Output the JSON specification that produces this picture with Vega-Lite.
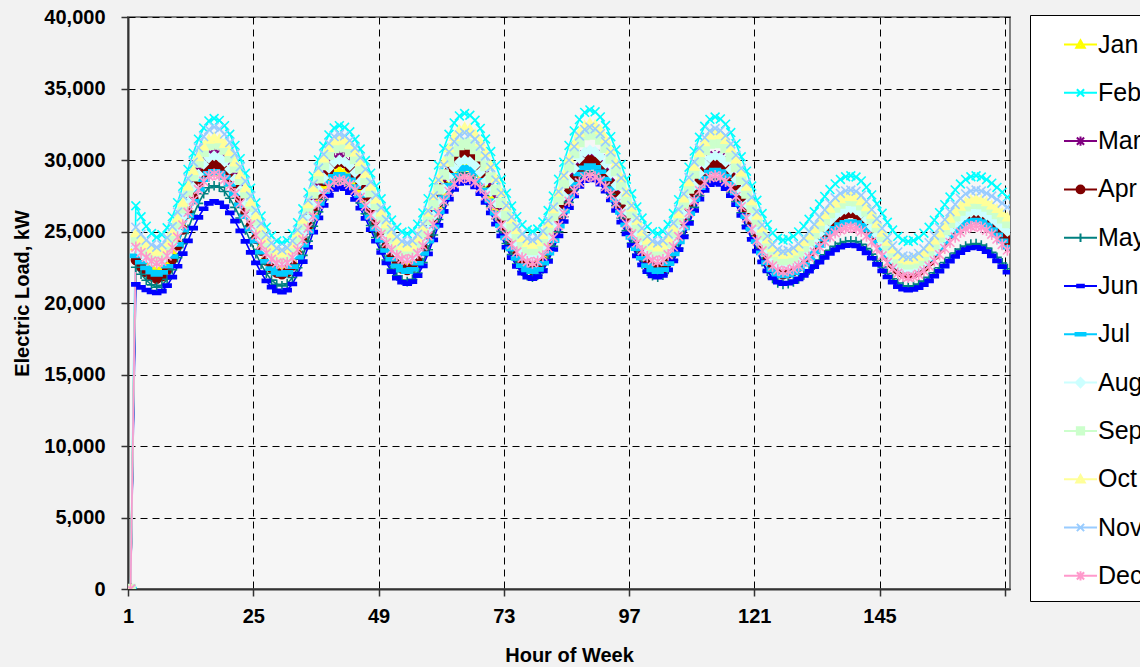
{
"$schema":"https://vega.github.io/schema/vega-lite/v6.json",
"autosize":{"type":"none"},
"padding":{"left":128,"top":17,"right":130,"bottom":78},
"width":882,"height":572,
"background":"#f2f2f2",
"datasets":{
"months":[{"key":"Jan","idx":1,"mk":"Jan"},{"key":"Feb","idx":2,"mk":"Feb"},{"key":"Mar","idx":3,"mk":"Mar"},{"key":"Apr","idx":4,"mk":"Apr"},{"key":"May","idx":5,"mk":"May"},{"key":"Jun","idx":6,"mk":"Jun"},{"key":"Jul","idx":7,"mk":"Jul"},{"key":"Aug","idx":8,"mk":"Aug"},{"key":"Sep","idx":9,"mk":"Sep"},{"key":"Oct","idx":10,"mk":"Oct"},{"key":"Nov","idx":11,"mk":"Nov"},{"key":"Dec","idx":12,"mk":"Dec"}],
"load":[
{"h":1,"Jan":0,"Feb":0,"Mar":0,"Apr":0,"May":0,"Jun":0,"Jul":0,"Aug":0,"Sep":0,"Oct":0,"Nov":0,"Dec":0},
{"h":2,"Jan":24000,"Feb":26800,"Mar":24200,"Apr":23000,"May":22500,"Jun":21300,"Jul":23300,"Aug":23900,"Sep":24500,"Oct":24900,"Nov":25300,"Dec":23900},
{"h":3,"Jan":23440,"Feb":26030,"Mar":23780,"Apr":22550,"May":22010,"Jun":21090,"Jul":22850,"Aug":23520,"Sep":24050,"Oct":24450,"Nov":24810,"Dec":23520},
{"h":4,"Jan":22960,"Feb":25370,"Mar":23420,"Apr":22160,"May":21590,"Jun":20910,"Jul":22460,"Aug":23190,"Sep":23660,"Oct":24060,"Nov":24390,"Dec":23190},
{"h":5,"Jan":22590,"Feb":24860,"Mar":23140,"Apr":21860,"May":21270,"Jun":20770,"Jul":22160,"Aug":22930,"Sep":23360,"Oct":23760,"Nov":24070,"Dec":22930},
{"h":6,"Jan":22400,"Feb":24600,"Mar":23000,"Apr":21700,"May":21100,"Jun":20700,"Jul":22000,"Aug":22800,"Sep":23200,"Oct":23600,"Nov":23900,"Dec":22800},
{"h":7,"Jan":22540,"Feb":24770,"Mar":23150,"Apr":21860,"May":21240,"Jun":20830,"Jul":22140,"Aug":22950,"Sep":23360,"Oct":23760,"Nov":24070,"Dec":22920},
{"h":8,"Jan":22950,"Feb":25260,"Mar":23600,"Apr":22330,"May":21660,"Jun":21210,"Jul":22570,"Aug":23390,"Sep":23830,"Oct":24230,"Nov":24560,"Dec":23290},
{"h":9,"Jan":23590,"Feb":26040,"Mar":24320,"Apr":23080,"May":22330,"Jun":21810,"Jul":23250,"Aug":24100,"Sep":24580,"Oct":24980,"Nov":25350,"Dec":23870},
{"h":10,"Jan":24420,"Feb":27020,"Mar":25220,"Apr":24040,"May":23170,"Jun":22570,"Jul":24100,"Aug":24990,"Sep":25540,"Oct":25940,"Nov":26350,"Dec":24610},
{"h":11,"Jan":25360,"Feb":28160,"Mar":26260,"Apr":25130,"May":24150,"Jun":23450,"Jul":25090,"Aug":26020,"Sep":26630,"Oct":27030,"Nov":27500,"Dec":25460},
{"h":12,"Jan":26340,"Feb":29340,"Mar":27340,"Apr":26270,"May":25150,"Jun":24350,"Jul":26110,"Aug":27080,"Sep":27770,"Oct":28170,"Nov":28700,"Dec":26340},
{"h":13,"Jan":27290,"Feb":30480,"Mar":28380,"Apr":27360,"May":26130,"Jun":25230,"Jul":27100,"Aug":28110,"Sep":28860,"Oct":29260,"Nov":29850,"Dec":27190},
{"h":14,"Jan":28110,"Feb":31460,"Mar":29290,"Apr":28320,"May":26970,"Jun":25990,"Jul":27950,"Aug":29000,"Sep":29820,"Oct":30220,"Nov":30850,"Dec":27930},
{"h":15,"Jan":28760,"Feb":32240,"Mar":30000,"Apr":29070,"May":27640,"Jun":26590,"Jul":28630,"Aug":29710,"Sep":30570,"Oct":30970,"Nov":31640,"Dec":28510},
{"h":16,"Jan":29160,"Feb":32730,"Mar":30450,"Apr":29540,"May":28060,"Jun":26970,"Jul":29060,"Aug":30150,"Sep":31040,"Oct":31440,"Nov":32130,"Dec":28880},
{"h":17,"Jan":29300,"Feb":32900,"Mar":30600,"Apr":29700,"May":28200,"Jun":27100,"Jul":29200,"Aug":30300,"Sep":31200,"Oct":31600,"Nov":32300,"Dec":29000},
{"h":18,"Jan":29200,"Feb":32770,"Mar":30480,"Apr":29580,"May":28100,"Jun":27010,"Jul":29090,"Aug":30190,"Sep":31080,"Oct":31480,"Nov":32170,"Dec":28910},
{"h":19,"Jan":28910,"Feb":32400,"Mar":30160,"Apr":29260,"May":27800,"Jun":26740,"Jul":28790,"Aug":29870,"Sep":30740,"Oct":31140,"Nov":31810,"Dec":28640},
{"h":20,"Jan":28440,"Feb":31800,"Mar":29630,"Apr":28730,"May":27320,"Jun":26300,"Jul":28290,"Aug":29360,"Sep":30190,"Oct":30580,"Nov":31220,"Dec":28210},
{"h":21,"Jan":27830,"Feb":31020,"Mar":28940,"Apr":28040,"May":26690,"Jun":25730,"Jul":27650,"Aug":28680,"Sep":29470,"Oct":29850,"Nov":30440,"Dec":27640},
{"h":22,"Jan":27100,"Feb":30090,"Mar":28110,"Apr":27210,"May":25940,"Jun":25050,"Jul":26870,"Aug":27880,"Sep":28620,"Oct":28980,"Nov":29520,"Dec":26970},
{"h":23,"Jan":26310,"Feb":29070,"Mar":27210,"Apr":26310,"May":25120,"Jun":24310,"Jul":26030,"Aug":27000,"Sep":27680,"Oct":28040,"Nov":28520,"Dec":26230},
{"h":24,"Jan":25490,"Feb":28030,"Mar":26290,"Apr":25390,"May":24280,"Jun":23540,"Jul":25170,"Aug":26100,"Sep":26720,"Oct":27060,"Nov":27480,"Dec":25470},
{"h":25,"Jan":24700,"Feb":27010,"Mar":25390,"Apr":24490,"May":23460,"Jun":22800,"Jul":24330,"Aug":25220,"Sep":25780,"Oct":26120,"Nov":26480,"Dec":24740},
{"h":26,"Jan":23970,"Feb":26080,"Mar":24560,"Apr":23660,"May":22710,"Jun":22120,"Jul":23560,"Aug":24420,"Sep":24930,"Oct":25250,"Nov":25560,"Dec":24060},
{"h":27,"Jan":23360,"Feb":25300,"Mar":23870,"Apr":22970,"May":22080,"Jun":21550,"Jul":22910,"Aug":23750,"Sep":24210,"Oct":24520,"Nov":24780,"Dec":23490},
{"h":28,"Jan":22890,"Feb":24700,"Mar":23340,"Apr":22440,"May":21600,"Jun":21110,"Jul":22410,"Aug":23230,"Sep":23660,"Oct":23960,"Nov":24190,"Dec":23060},
{"h":29,"Jan":22600,"Feb":24330,"Mar":23020,"Apr":22120,"May":21310,"Jun":20850,"Jul":22110,"Aug":22910,"Sep":23320,"Oct":23620,"Nov":23830,"Dec":22790},
{"h":30,"Jan":22500,"Feb":24200,"Mar":22900,"Apr":22000,"May":21200,"Jun":20750,"Jul":22000,"Aug":22800,"Sep":23200,"Oct":23500,"Nov":23700,"Dec":22700},
{"h":31,"Jan":22640,"Feb":24360,"Mar":23050,"Apr":22160,"May":21350,"Jun":20900,"Jul":22140,"Aug":22940,"Sep":23360,"Oct":23660,"Nov":23860,"Dec":22820},
{"h":32,"Jan":23040,"Feb":24850,"Mar":23490,"Apr":22620,"May":21780,"Jun":21330,"Jul":22550,"Aug":23370,"Sep":23820,"Oct":24130,"Nov":24340,"Dec":23170},
{"h":33,"Jan":23680,"Feb":25620,"Mar":24180,"Apr":23370,"May":22460,"Jun":22020,"Jul":23210,"Aug":24050,"Sep":24550,"Oct":24880,"Nov":25100,"Dec":23720},
{"h":34,"Jan":24490,"Feb":26590,"Mar":25060,"Apr":24310,"May":23330,"Jun":22900,"Jul":24040,"Aug":24900,"Sep":25480,"Oct":25840,"Nov":26070,"Dec":24420},
{"h":35,"Jan":25420,"Feb":27720,"Mar":26080,"Apr":25390,"May":24330,"Jun":23900,"Jul":25000,"Aug":25890,"Sep":26550,"Oct":26930,"Nov":27180,"Dec":25230},
{"h":36,"Jan":26380,"Feb":28880,"Mar":27130,"Apr":26510,"May":25370,"Jun":24950,"Jul":26000,"Aug":26910,"Sep":27650,"Oct":28070,"Nov":28330,"Dec":26070},
{"h":37,"Jan":27310,"Feb":30010,"Mar":28140,"Apr":27590,"May":26370,"Jun":25950,"Jul":26960,"Aug":27900,"Sep":28720,"Oct":29160,"Nov":29440,"Dec":26880},
{"h":38,"Jan":28120,"Feb":30980,"Mar":29020,"Apr":28530,"May":27240,"Jun":26830,"Jul":27790,"Aug":28750,"Sep":29650,"Oct":30120,"Nov":30400,"Dec":27580},
{"h":39,"Jan":28760,"Feb":31750,"Mar":29720,"Apr":29280,"May":27920,"Jun":27520,"Jul":28450,"Aug":29430,"Sep":30380,"Oct":30870,"Nov":31160,"Dec":28130},
{"h":40,"Jan":29160,"Feb":32240,"Mar":30150,"Apr":29740,"May":28350,"Jun":27950,"Jul":28860,"Aug":29860,"Sep":30840,"Oct":31340,"Nov":31640,"Dec":28480},
{"h":41,"Jan":29300,"Feb":32400,"Mar":30300,"Apr":29900,"May":28500,"Jun":28100,"Jul":29000,"Aug":30000,"Sep":31000,"Oct":31500,"Nov":31800,"Dec":28600},
{"h":42,"Jan":29200,"Feb":32290,"Mar":30190,"Apr":29790,"May":28400,"Jun":28000,"Jul":28900,"Aug":29900,"Sep":30890,"Oct":31390,"Nov":31690,"Dec":28520},
{"h":43,"Jan":28920,"Feb":31970,"Mar":29880,"Apr":29470,"May":28100,"Jun":27720,"Jul":28610,"Aug":29610,"Sep":30580,"Oct":31070,"Nov":31370,"Dec":28280},
{"h":44,"Jan":28470,"Feb":31450,"Mar":29380,"Apr":28940,"May":27620,"Jun":27250,"Jul":28140,"Aug":29130,"Sep":30070,"Oct":30540,"Nov":30840,"Dec":27890},
{"h":45,"Jan":27870,"Feb":30770,"Mar":28720,"Apr":28260,"May":26990,"Jun":26640,"Jul":27530,"Aug":28510,"Sep":29400,"Oct":29860,"Nov":30160,"Dec":27390},
{"h":46,"Jan":27170,"Feb":29960,"Mar":27940,"Apr":27450,"May":26240,"Jun":25920,"Jul":26800,"Aug":27770,"Sep":28610,"Oct":29050,"Nov":29350,"Dec":26790},
{"h":47,"Jan":26400,"Feb":29080,"Mar":27090,"Apr":26560,"May":25420,"Jun":25130,"Jul":26010,"Aug":26960,"Sep":27740,"Oct":28160,"Nov":28460,"Dec":26140},
{"h":48,"Jan":25600,"Feb":28170,"Mar":26210,"Apr":25640,"May":24580,"Jun":24320,"Jul":25190,"Aug":26140,"Sep":26860,"Oct":27240,"Nov":27540,"Dec":25460},
{"h":49,"Jan":24830,"Feb":27290,"Mar":25360,"Apr":24760,"May":23760,"Jun":23530,"Jul":24400,"Aug":25330,"Sep":25990,"Oct":26360,"Nov":26660,"Dec":24810},
{"h":50,"Jan":24130,"Feb":26480,"Mar":24580,"Apr":23940,"May":23010,"Jun":22810,"Jul":23670,"Aug":24590,"Sep":25200,"Oct":25540,"Nov":25840,"Dec":24210},
{"h":51,"Jan":23530,"Feb":25800,"Mar":23920,"Apr":23260,"May":22380,"Jun":22200,"Jul":23060,"Aug":23970,"Sep":24530,"Oct":24860,"Nov":25160,"Dec":23710},
{"h":52,"Jan":23080,"Feb":25280,"Mar":23420,"Apr":22730,"May":21900,"Jun":21740,"Jul":22590,"Aug":23490,"Sep":24020,"Oct":24330,"Nov":24630,"Dec":23320},
{"h":53,"Jan":22800,"Feb":24960,"Mar":23110,"Apr":22410,"May":21610,"Jun":21450,"Jul":22300,"Aug":23200,"Sep":23710,"Oct":24010,"Nov":24310,"Dec":23080},
{"h":54,"Jan":22700,"Feb":24850,"Mar":23000,"Apr":22300,"May":21500,"Jun":21350,"Jul":22200,"Aug":23100,"Sep":23600,"Oct":23900,"Nov":24200,"Dec":23000},
{"h":55,"Jan":22840,"Feb":25020,"Mar":23150,"Apr":22470,"May":21650,"Jun":21490,"Jul":22350,"Aug":23240,"Sep":23750,"Oct":24070,"Nov":24350,"Dec":23120},
{"h":56,"Jan":23250,"Feb":25510,"Mar":23610,"Apr":22960,"May":22100,"Jun":21920,"Jul":22780,"Aug":23650,"Sep":24200,"Oct":24560,"Nov":24810,"Dec":23460},
{"h":57,"Jan":23890,"Feb":26300,"Mar":24330,"Apr":23740,"May":22820,"Jun":22590,"Jul":23460,"Aug":24290,"Sep":24920,"Oct":25350,"Nov":25530,"Dec":24000},
{"h":58,"Jan":24720,"Feb":27300,"Mar":25250,"Apr":24720,"May":23720,"Jun":23440,"Jul":24330,"Aug":25120,"Sep":25820,"Oct":26350,"Nov":26450,"Dec":24690},
{"h":59,"Jan":25660,"Feb":28450,"Mar":26300,"Apr":25860,"May":24760,"Jun":24420,"Jul":25330,"Aug":26060,"Sep":26860,"Oct":27500,"Nov":27500,"Dec":25490},
{"h":60,"Jan":26640,"Feb":29650,"Mar":27400,"Apr":27040,"May":25840,"Jun":25430,"Jul":26370,"Aug":27040,"Sep":27940,"Oct":28700,"Nov":28600,"Dec":26310},
{"h":61,"Jan":27590,"Feb":30800,"Mar":28450,"Apr":28180,"May":26880,"Jun":26410,"Jul":27370,"Aug":27990,"Sep":28980,"Oct":29850,"Nov":29650,"Dec":27110},
{"h":62,"Jan":28410,"Feb":31800,"Mar":29370,"Apr":29160,"May":27790,"Jun":27260,"Jul":28240,"Aug":28810,"Sep":29890,"Oct":30850,"Nov":30570,"Dec":27800},
{"h":63,"Jan":29060,"Feb":32590,"Mar":30090,"Apr":29940,"May":28500,"Jun":27940,"Jul":28920,"Aug":29460,"Sep":30600,"Oct":31640,"Nov":31290,"Dec":28340},
{"h":64,"Jan":29460,"Feb":33080,"Mar":30550,"Apr":30430,"May":28950,"Jun":28360,"Jul":29350,"Aug":29860,"Sep":31050,"Oct":32130,"Nov":31750,"Dec":28680},
{"h":65,"Jan":29600,"Feb":33250,"Mar":30700,"Apr":30600,"May":29100,"Jun":28500,"Jul":29500,"Aug":30000,"Sep":31200,"Oct":32300,"Nov":31900,"Dec":28800},
{"h":66,"Jan":29500,"Feb":33130,"Mar":30580,"Apr":30480,"May":28990,"Jun":28400,"Jul":29390,"Aug":29900,"Sep":31090,"Oct":32180,"Nov":31790,"Dec":28710},
{"h":67,"Jan":29210,"Feb":32780,"Mar":30260,"Apr":30130,"May":28680,"Jun":28110,"Jul":29080,"Aug":29610,"Sep":30770,"Oct":31830,"Nov":31470,"Dec":28460},
{"h":68,"Jan":28740,"Feb":32210,"Mar":29730,"Apr":29550,"May":28180,"Jun":27640,"Jul":28580,"Aug":29140,"Sep":30260,"Oct":31270,"Nov":30960,"Dec":28040},
{"h":69,"Jan":28130,"Feb":31470,"Mar":29040,"Apr":28810,"May":27520,"Jun":27030,"Jul":27920,"Aug":28530,"Sep":29580,"Oct":30530,"Nov":30280,"Dec":27500},
{"h":70,"Jan":27400,"Feb":30590,"Mar":28210,"Apr":27920,"May":26740,"Jun":26300,"Jul":27140,"Aug":27800,"Sep":28780,"Oct":29650,"Nov":29480,"Dec":26860},
{"h":71,"Jan":26610,"Feb":29620,"Mar":27310,"Apr":26950,"May":25890,"Jun":25510,"Jul":26290,"Aug":27010,"Sep":27900,"Oct":28690,"Nov":28600,"Dec":26160},
{"h":72,"Jan":25790,"Feb":28630,"Mar":26390,"Apr":25950,"May":25010,"Jun":24690,"Jul":25410,"Aug":26190,"Sep":27000,"Oct":27710,"Nov":27700,"Dec":25440},
{"h":73,"Jan":25000,"Feb":27670,"Mar":25490,"Apr":24980,"May":24160,"Jun":23900,"Jul":24560,"Aug":25400,"Sep":26120,"Oct":26750,"Nov":26820,"Dec":24740},
{"h":74,"Jan":24270,"Feb":26780,"Mar":24660,"Apr":24090,"May":23380,"Jun":23170,"Jul":23780,"Aug":24670,"Sep":25320,"Oct":25870,"Nov":26020,"Dec":24100},
{"h":75,"Jan":23660,"Feb":26040,"Mar":23970,"Apr":23350,"May":22720,"Jun":22560,"Jul":23120,"Aug":24060,"Sep":24650,"Oct":25130,"Nov":25350,"Dec":23560},
{"h":76,"Jan":23190,"Feb":25470,"Mar":23440,"Apr":22770,"May":22220,"Jun":22090,"Jul":22620,"Aug":23590,"Sep":24130,"Oct":24570,"Nov":24830,"Dec":23140},
{"h":77,"Jan":22900,"Feb":25120,"Mar":23120,"Apr":22420,"May":21910,"Jun":21800,"Jul":22310,"Aug":23300,"Sep":23810,"Oct":24220,"Nov":24510,"Dec":22890},
{"h":78,"Jan":22800,"Feb":25000,"Mar":23000,"Apr":22300,"May":21800,"Jun":21700,"Jul":22200,"Aug":23200,"Sep":23700,"Oct":24100,"Nov":24400,"Dec":22800},
{"h":79,"Jan":22940,"Feb":25170,"Mar":23150,"Apr":22450,"May":21950,"Jun":21840,"Jul":22350,"Aug":23350,"Sep":23860,"Oct":24270,"Nov":24560,"Dec":22920},
{"h":80,"Jan":23350,"Feb":25670,"Mar":23590,"Apr":22910,"May":22390,"Jun":22250,"Jul":22790,"Aug":23790,"Sep":24350,"Oct":24770,"Nov":25020,"Dec":23280},
{"h":81,"Jan":24010,"Feb":26470,"Mar":24300,"Apr":23630,"May":23080,"Jun":22910,"Jul":23480,"Aug":24500,"Sep":25120,"Oct":25570,"Nov":25770,"Dec":23860},
{"h":82,"Jan":24840,"Feb":27480,"Mar":25190,"Apr":24550,"May":23960,"Jun":23740,"Jul":24360,"Aug":25390,"Sep":26090,"Oct":26580,"Nov":26710,"Dec":24580},
{"h":83,"Jan":25800,"Feb":28650,"Mar":26220,"Apr":25600,"May":24980,"Jun":24700,"Jul":25380,"Aug":26420,"Sep":27220,"Oct":27750,"Nov":27790,"Dec":25420},
{"h":84,"Jan":26800,"Feb":29850,"Mar":27280,"Apr":26700,"May":26030,"Jun":25700,"Jul":26430,"Aug":27480,"Sep":28380,"Oct":28950,"Nov":28910,"Dec":26280},
{"h":85,"Jan":27760,"Feb":31020,"Mar":28310,"Apr":27750,"May":27040,"Jun":26660,"Jul":27440,"Aug":28510,"Sep":29510,"Oct":30120,"Nov":29990,"Dec":27120},
{"h":86,"Jan":28590,"Feb":32030,"Mar":29200,"Apr":28670,"May":27920,"Jun":27490,"Jul":28320,"Aug":29400,"Sep":30480,"Oct":31130,"Nov":30930,"Dec":27850},
{"h":87,"Jan":29250,"Feb":32830,"Mar":29910,"Apr":29390,"May":28620,"Jun":28150,"Jul":29020,"Aug":30110,"Sep":31250,"Oct":31930,"Nov":31680,"Dec":28420},
{"h":88,"Jan":29660,"Feb":33330,"Mar":30350,"Apr":29850,"May":29050,"Jun":28560,"Jul":29450,"Aug":30550,"Sep":31740,"Oct":32430,"Nov":32140,"Dec":28780},
{"h":89,"Jan":29800,"Feb":33500,"Mar":30500,"Apr":30000,"May":29200,"Jun":28700,"Jul":29600,"Aug":30700,"Sep":31900,"Oct":32600,"Nov":32300,"Dec":28900},
{"h":90,"Jan":29690,"Feb":33370,"Mar":30380,"Apr":29880,"May":29090,"Jun":28600,"Jul":29490,"Aug":30590,"Sep":31780,"Oct":32470,"Nov":32180,"Dec":28810},
{"h":91,"Jan":29400,"Feb":33010,"Mar":30060,"Apr":29560,"May":28780,"Jun":28310,"Jul":29180,"Aug":30270,"Sep":31430,"Oct":32100,"Nov":31840,"Dec":28560},
{"h":92,"Jan":28910,"Feb":32410,"Mar":29530,"Apr":29030,"May":28270,"Jun":27830,"Jul":28670,"Aug":29740,"Sep":30850,"Oct":31500,"Nov":31280,"Dec":28140},
{"h":93,"Jan":28270,"Feb":31630,"Mar":28840,"Apr":28340,"May":27600,"Jun":27210,"Jul":28000,"Aug":29060,"Sep":30110,"Oct":30720,"Nov":30550,"Dec":27600},
{"h":94,"Jan":27510,"Feb":30710,"Mar":28010,"Apr":27510,"May":26810,"Jun":26470,"Jul":27210,"Aug":28250,"Sep":29220,"Oct":29790,"Nov":29680,"Dec":26960},
{"h":95,"Jan":26680,"Feb":29690,"Mar":27110,"Apr":26610,"May":25940,"Jun":25660,"Jul":26340,"Aug":27360,"Sep":28250,"Oct":28770,"Nov":28740,"Dec":26260},
{"h":96,"Jan":25820,"Feb":28660,"Mar":26190,"Apr":25690,"May":25060,"Jun":24840,"Jul":25460,"Aug":26440,"Sep":27250,"Oct":27730,"Nov":27760,"Dec":25540},
{"h":97,"Jan":24990,"Feb":27640,"Mar":25290,"Apr":24790,"May":24190,"Jun":24030,"Jul":24590,"Aug":25560,"Sep":26280,"Oct":26710,"Nov":26820,"Dec":24840},
{"h":98,"Jan":24230,"Feb":26720,"Mar":24460,"Apr":23960,"May":23400,"Jun":23290,"Jul":23800,"Aug":24740,"Sep":25390,"Oct":25780,"Nov":25950,"Dec":24200},
{"h":99,"Jan":23600,"Feb":25940,"Mar":23770,"Apr":23270,"May":22730,"Jun":22670,"Jul":23130,"Aug":24060,"Sep":24650,"Oct":25000,"Nov":25220,"Dec":23660},
{"h":100,"Jan":23110,"Feb":25340,"Mar":23240,"Apr":22740,"May":22220,"Jun":22190,"Jul":22620,"Aug":23530,"Sep":24070,"Oct":24400,"Nov":24660,"Dec":23240},
{"h":101,"Jan":22810,"Feb":24980,"Mar":22920,"Apr":22420,"May":21910,"Jun":21900,"Jul":22310,"Aug":23210,"Sep":23720,"Oct":24030,"Nov":24320,"Dec":22990},
{"h":102,"Jan":22700,"Feb":24850,"Mar":22800,"Apr":22300,"May":21800,"Jun":21800,"Jul":22200,"Aug":23100,"Sep":23600,"Oct":23900,"Nov":24200,"Dec":22900},
{"h":103,"Jan":22840,"Feb":25010,"Mar":22950,"Apr":22450,"May":21940,"Jun":21930,"Jul":22340,"Aug":23240,"Sep":23750,"Oct":24060,"Nov":24360,"Dec":23020},
{"h":104,"Jan":23250,"Feb":25490,"Mar":23390,"Apr":22890,"May":22350,"Jun":22320,"Jul":22760,"Aug":23670,"Sep":24210,"Oct":24530,"Nov":24830,"Dec":23370},
{"h":105,"Jan":23890,"Feb":26260,"Mar":24100,"Apr":23600,"May":22990,"Jun":22940,"Jul":23430,"Aug":24350,"Sep":24930,"Oct":25280,"Nov":25580,"Dec":23940},
{"h":106,"Jan":24720,"Feb":27230,"Mar":24990,"Apr":24490,"May":23820,"Jun":23730,"Jul":24270,"Aug":25200,"Sep":25850,"Oct":26240,"Nov":26540,"Dec":24650},
{"h":107,"Jan":25660,"Feb":28350,"Mar":26020,"Apr":25520,"May":24760,"Jun":24630,"Jul":25250,"Aug":26190,"Sep":26900,"Oct":27330,"Nov":27630,"Dec":25470},
{"h":108,"Jan":26640,"Feb":29500,"Mar":27080,"Apr":26580,"May":25740,"Jun":25570,"Jul":26250,"Aug":27210,"Sep":28000,"Oct":28470,"Nov":28770,"Dec":26330},
{"h":109,"Jan":27590,"Feb":30620,"Mar":28110,"Apr":27610,"May":26690,"Jun":26470,"Jul":27230,"Aug":28200,"Sep":29050,"Oct":29560,"Nov":29860,"Dec":27150},
{"h":110,"Jan":28410,"Feb":31590,"Mar":29000,"Apr":28500,"May":27510,"Jun":27260,"Jul":28070,"Aug":29050,"Sep":29970,"Oct":30520,"Nov":30820,"Dec":27860},
{"h":111,"Jan":29060,"Feb":32360,"Mar":29710,"Apr":29210,"May":28160,"Jun":27880,"Jul":28740,"Aug":29730,"Sep":30690,"Oct":31270,"Nov":31570,"Dec":28430},
{"h":112,"Jan":29460,"Feb":32840,"Mar":30150,"Apr":29650,"May":28560,"Jun":28270,"Jul":29160,"Aug":30160,"Sep":31150,"Oct":31740,"Nov":32040,"Dec":28780},
{"h":113,"Jan":29600,"Feb":33000,"Mar":30300,"Apr":29800,"May":28700,"Jun":28400,"Jul":29300,"Aug":30300,"Sep":31300,"Oct":31900,"Nov":32200,"Dec":28900},
{"h":114,"Jan":29490,"Feb":32870,"Mar":30180,"Apr":29680,"May":28590,"Jun":28290,"Jul":29190,"Aug":30180,"Sep":31180,"Oct":31770,"Nov":32070,"Dec":28800},
{"h":115,"Jan":29180,"Feb":32510,"Mar":29850,"Apr":29360,"May":28280,"Jun":28000,"Jul":28880,"Aug":29860,"Sep":30830,"Oct":31420,"Nov":31710,"Dec":28520},
{"h":116,"Jan":28680,"Feb":31920,"Mar":29310,"Apr":28820,"May":27770,"Jun":27510,"Jul":28370,"Aug":29330,"Sep":30250,"Oct":30830,"Nov":31120,"Dec":28060},
{"h":117,"Jan":28020,"Feb":31140,"Mar":28590,"Apr":28120,"May":27100,"Jun":26880,"Jul":27700,"Aug":28640,"Sep":29510,"Oct":30060,"Nov":30340,"Dec":27450},
{"h":118,"Jan":27240,"Feb":30220,"Mar":27750,"Apr":27280,"May":26310,"Jun":26120,"Jul":26910,"Aug":27810,"Sep":28620,"Oct":29150,"Nov":29420,"Dec":26740},
{"h":119,"Jan":26390,"Feb":29220,"Mar":26820,"Apr":26370,"May":25440,"Jun":25300,"Jul":26040,"Aug":26910,"Sep":27650,"Oct":28160,"Nov":28420,"Dec":25950},
{"h":120,"Jan":25510,"Feb":28180,"Mar":25880,"Apr":25430,"May":24560,"Jun":24450,"Jul":25160,"Aug":25990,"Sep":26650,"Oct":27140,"Nov":27380,"Dec":25150},
{"h":121,"Jan":24660,"Feb":27180,"Mar":24950,"Apr":24520,"May":23690,"Jun":23630,"Jul":24290,"Aug":25090,"Sep":25680,"Oct":26150,"Nov":26380,"Dec":24360},
{"h":122,"Jan":23880,"Feb":26260,"Mar":24110,"Apr":23690,"May":22900,"Jun":22870,"Jul":23500,"Aug":24260,"Sep":24790,"Oct":25240,"Nov":25460,"Dec":23650},
{"h":123,"Jan":23220,"Feb":25480,"Mar":23400,"Apr":22980,"May":22230,"Jun":22240,"Jul":22830,"Aug":23570,"Sep":24050,"Oct":24470,"Nov":24680,"Dec":23040},
{"h":124,"Jan":22720,"Feb":24890,"Mar":22850,"Apr":22450,"May":21720,"Jun":21750,"Jul":22320,"Aug":23040,"Sep":23470,"Oct":23880,"Nov":24090,"Dec":22580},
{"h":125,"Jan":22410,"Feb":24530,"Mar":22520,"Apr":22120,"May":21410,"Jun":21460,"Jul":22010,"Aug":22720,"Sep":23120,"Oct":23530,"Nov":23730,"Dec":22300},
{"h":126,"Jan":22300,"Feb":24400,"Mar":22400,"Apr":22000,"May":21300,"Jun":21350,"Jul":21900,"Aug":22600,"Sep":23000,"Oct":23400,"Nov":23600,"Dec":22200},
{"h":127,"Jan":22360,"Feb":24470,"Mar":22460,"Apr":22070,"May":21350,"Jun":21390,"Jul":21960,"Aug":22660,"Sep":23060,"Oct":23460,"Nov":23670,"Dec":22250},
{"h":128,"Jan":22530,"Feb":24660,"Mar":22640,"Apr":22250,"May":21470,"Jun":21500,"Jul":22120,"Aug":22830,"Sep":23240,"Oct":23630,"Nov":23850,"Dec":22380},
{"h":129,"Jan":22820,"Feb":24970,"Mar":22930,"Apr":22540,"May":21680,"Jun":21690,"Jul":22380,"Aug":23100,"Sep":23530,"Oct":23920,"Nov":24140,"Dec":22590},
{"h":130,"Jan":23190,"Feb":25370,"Mar":23310,"Apr":22930,"May":21960,"Jun":21930,"Jul":22720,"Aug":23460,"Sep":23910,"Oct":24290,"Nov":24530,"Dec":22870},
{"h":131,"Jan":23620,"Feb":25850,"Mar":23760,"Apr":23390,"May":22290,"Jun":22220,"Jul":23130,"Aug":23890,"Sep":24360,"Oct":24720,"Nov":24990,"Dec":23200},
{"h":132,"Jan":24100,"Feb":26380,"Mar":24250,"Apr":23890,"May":22640,"Jun":22540,"Jul":23570,"Aug":24360,"Sep":24850,"Oct":25200,"Nov":25490,"Dec":23560},
{"h":133,"Jan":24600,"Feb":26920,"Mar":24750,"Apr":24410,"May":23010,"Jun":22860,"Jul":24030,"Aug":24840,"Sep":25350,"Oct":25700,"Nov":26010,"Dec":23940},
{"h":134,"Jan":25080,"Feb":27450,"Mar":25240,"Apr":24910,"May":23370,"Jun":23180,"Jul":24470,"Aug":25310,"Sep":25840,"Oct":26180,"Nov":26510,"Dec":24300},
{"h":135,"Jan":25510,"Feb":27930,"Mar":25690,"Apr":25370,"May":23690,"Jun":23470,"Jul":24880,"Aug":25740,"Sep":26290,"Oct":26610,"Nov":26970,"Dec":24630},
{"h":136,"Jan":25880,"Feb":28330,"Mar":26070,"Apr":25760,"May":23970,"Jun":23710,"Jul":25220,"Aug":26100,"Sep":26670,"Oct":26980,"Nov":27360,"Dec":24910},
{"h":137,"Jan":26170,"Feb":28640,"Mar":26360,"Apr":26060,"May":24180,"Jun":23900,"Jul":25480,"Aug":26370,"Sep":26960,"Oct":27270,"Nov":27660,"Dec":25120},
{"h":138,"Jan":26340,"Feb":28830,"Mar":26540,"Apr":26240,"May":24300,"Jun":24010,"Jul":25640,"Aug":26540,"Sep":27140,"Oct":27440,"Nov":27840,"Dec":25250},
{"h":139,"Jan":26400,"Feb":28900,"Mar":26600,"Apr":26300,"May":24350,"Jun":24050,"Jul":25700,"Aug":26600,"Sep":27200,"Oct":27500,"Nov":27900,"Dec":25300},
{"h":140,"Jan":26310,"Feb":28810,"Mar":26510,"Apr":26210,"May":24290,"Jun":23990,"Jul":25630,"Aug":26510,"Sep":27110,"Oct":27410,"Nov":27810,"Dec":25230},
{"h":141,"Jan":26060,"Feb":28540,"Mar":26240,"Apr":25960,"May":24100,"Jun":23800,"Jul":25430,"Aug":26260,"Sep":26840,"Oct":27140,"Nov":27530,"Dec":25020},
{"h":142,"Jan":25660,"Feb":28100,"Mar":25820,"Apr":25560,"May":23800,"Jun":23510,"Jul":25110,"Aug":25860,"Sep":26420,"Oct":26720,"Nov":27090,"Dec":24690},
{"h":143,"Jan":25140,"Feb":27560,"Mar":25290,"Apr":25040,"May":23420,"Jun":23130,"Jul":24710,"Aug":25340,"Sep":25890,"Oct":26190,"Nov":26530,"Dec":24280},
{"h":144,"Jan":24560,"Feb":26930,"Mar":24670,"Apr":24460,"May":22980,"Jun":22700,"Jul":24240,"Aug":24760,"Sep":25270,"Oct":25570,"Nov":25880,"Dec":23800},
{"h":145,"Jan":23950,"Feb":26270,"Mar":24030,"Apr":23850,"May":22520,"Jun":22250,"Jul":23760,"Aug":24150,"Sep":24630,"Oct":24930,"Nov":25220,"Dec":23300},
{"h":146,"Jan":23360,"Feb":25640,"Mar":23410,"Apr":23260,"May":22080,"Jun":21820,"Jul":23290,"Aug":23560,"Sep":24010,"Oct":24310,"Nov":24570,"Dec":22820},
{"h":147,"Jan":22840,"Feb":25100,"Mar":22880,"Apr":22740,"May":21700,"Jun":21450,"Jul":22890,"Aug":23040,"Sep":23480,"Oct":23780,"Nov":24010,"Dec":22410},
{"h":148,"Jan":22440,"Feb":24660,"Mar":22460,"Apr":22340,"May":21400,"Jun":21150,"Jul":22570,"Aug":22640,"Sep":23060,"Oct":23360,"Nov":23570,"Dec":22080},
{"h":149,"Jan":22190,"Feb":24390,"Mar":22190,"Apr":22090,"May":21210,"Jun":20960,"Jul":22370,"Aug":22390,"Sep":22790,"Oct":23090,"Nov":23290,"Dec":21870},
{"h":150,"Jan":22100,"Feb":24300,"Mar":22100,"Apr":22000,"May":21150,"Jun":20900,"Jul":22300,"Aug":22300,"Sep":22700,"Oct":23000,"Nov":23200,"Dec":21800},
{"h":151,"Jan":22160,"Feb":24370,"Mar":22160,"Apr":22060,"May":21200,"Jun":20950,"Jul":22350,"Aug":22360,"Sep":22770,"Oct":23070,"Nov":23270,"Dec":21850},
{"h":152,"Jan":22330,"Feb":24560,"Mar":22340,"Apr":22240,"May":21320,"Jun":21070,"Jul":22500,"Aug":22530,"Sep":22950,"Oct":23250,"Nov":23470,"Dec":22010},
{"h":153,"Jan":22600,"Feb":24880,"Mar":22630,"Apr":22530,"May":21530,"Jun":21280,"Jul":22740,"Aug":22820,"Sep":23240,"Oct":23540,"Nov":23790,"Dec":22250},
{"h":154,"Jan":22960,"Feb":25290,"Mar":23010,"Apr":22910,"May":21800,"Jun":21550,"Jul":23060,"Aug":23190,"Sep":23630,"Oct":23930,"Nov":24220,"Dec":22580},
{"h":155,"Jan":23390,"Feb":25790,"Mar":23460,"Apr":23360,"May":22120,"Jun":21870,"Jul":23430,"Aug":23620,"Sep":24090,"Oct":24390,"Nov":24720,"Dec":22960},
{"h":156,"Jan":23860,"Feb":26320,"Mar":23950,"Apr":23850,"May":22470,"Jun":22220,"Jul":23840,"Aug":24100,"Sep":24590,"Oct":24890,"Nov":25270,"Dec":23380},
{"h":157,"Jan":24340,"Feb":26880,"Mar":24450,"Apr":24350,"May":22830,"Jun":22580,"Jul":24260,"Aug":24600,"Sep":25110,"Oct":25410,"Nov":25830,"Dec":23820},
{"h":158,"Jan":24810,"Feb":27410,"Mar":24940,"Apr":24840,"May":23180,"Jun":22930,"Jul":24670,"Aug":25080,"Sep":25610,"Oct":25910,"Nov":26380,"Dec":24240},
{"h":159,"Jan":25240,"Feb":27910,"Mar":25390,"Apr":25290,"May":23500,"Jun":23250,"Jul":25040,"Aug":25510,"Sep":26070,"Oct":26370,"Nov":26890,"Dec":24620},
{"h":160,"Jan":25600,"Feb":28320,"Mar":25770,"Apr":25670,"May":23770,"Jun":23520,"Jul":25360,"Aug":25880,"Sep":26460,"Oct":26760,"Nov":27310,"Dec":24950},
{"h":161,"Jan":25870,"Feb":28640,"Mar":26060,"Apr":25960,"May":23980,"Jun":23730,"Jul":25600,"Aug":26170,"Sep":26760,"Oct":27060,"Nov":27630,"Dec":25200},
{"h":162,"Jan":26040,"Feb":28830,"Mar":26240,"Apr":26140,"May":24110,"Jun":23860,"Jul":25750,"Aug":26340,"Sep":26940,"Oct":27240,"Nov":27830,"Dec":25350},
{"h":163,"Jan":26100,"Feb":28900,"Mar":26300,"Apr":26200,"May":24150,"Jun":23900,"Jul":25800,"Aug":26400,"Sep":27000,"Oct":27300,"Nov":27900,"Dec":25400},
{"h":164,"Jan":26020,"Feb":28810,"Mar":26200,"Apr":26090,"May":24050,"Jun":23800,"Jul":25690,"Aug":26320,"Sep":26920,"Oct":27220,"Nov":27830,"Dec":25300},
{"h":165,"Jan":25870,"Feb":28630,"Mar":26010,"Apr":25880,"May":23840,"Jun":23590,"Jul":25460,"Aug":26150,"Sep":26750,"Oct":27070,"Nov":27680,"Dec":25090},
{"h":166,"Jan":25650,"Feb":28380,"Mar":25740,"Apr":25570,"May":23540,"Jun":23290,"Jul":25140,"Aug":25910,"Sep":26510,"Oct":26850,"Nov":27480,"Dec":24810},
{"h":167,"Jan":25390,"Feb":28080,"Mar":25420,"Apr":25210,"May":23190,"Jun":22940,"Jul":24760,"Aug":25630,"Sep":26230,"Oct":26590,"Nov":27240,"Dec":24470},
{"h":168,"Jan":25100,"Feb":27750,"Mar":25070,"Apr":24810,"May":22800,"Jun":22550,"Jul":24340,"Aug":25320,"Sep":25920,"Oct":26300,"Nov":26980,"Dec":24090},
{"h":169,"Jan":24800,"Feb":27400,"Mar":24700,"Apr":24400,"May":22400,"Jun":22150,"Jul":23900,"Aug":25000,"Sep":25600,"Oct":26000,"Nov":26700,"Dec":23700}
]},
"data":{"name":"load"},
"transform":[
{"fold":["Jan","Feb","Mar","Apr","May","Jun","Jul","Aug","Sep","Oct","Nov","Dec"],"as":["key","value"]},
{"lookup":"key","from":{"data":{"name":"months"},"key":"key","fields":["idx","mk"]}}
],
"encoding":{
"x":{"field":"h","type":"quantitative","scale":{"domain":[0.5,169.5],"nice":false,"zero":false},
 "axis":{"title":"Hour of Week","values":[0.5,24.5,48.5,72.5,96.5,120.5,144.5,168.5],
  "labelExpr":"datum.value > 160 ? '' : format(datum.value + 0.5, 'd')","labelDx":2.6,"labelFlush":false,"labelOverlap":false,
  "grid":true,"gridColor":"#000000","gridDash":[7,5],"gridOpacity":1,"gridWidth":1,
  "tickColor":"#333333","tickSize":7,"tickWidth":1.5,"domainColor":"#333333","domainWidth":2,
  "labelFont":"Liberation Sans","labelFontWeight":"bold","labelFontSize":20,"labelColor":"#000000","labelPadding":10,
  "titleFont":"Liberation Sans","titleFontSize":20,"titleFontWeight":"bold","titleColor":"#000000","titleY":66,"titleBaseline":"middle"}},
"y":{"field":"value","type":"quantitative","scale":{"domain":[0,40000],"nice":false},
 "axis":{"title":"Electric Load, kW","values":[0,5000,10000,15000,20000,25000,30000,35000,40000],"format":",d",
  "labelFlush":false,"labelOverlap":false,
  "grid":true,"gridColor":"#000000","gridDash":[7,5],"gridOpacity":1,"gridWidth":1,
  "tickColor":"#333333","tickSize":7,"tickWidth":1.5,"domainColor":"#333333","domainWidth":2,
  "labelFont":"Liberation Sans","labelFontWeight":"bold","labelFontSize":20,"labelColor":"#000000","labelPadding":16,
  "titleFont":"Liberation Sans","titleFontSize":20,"titleFontWeight":"bold","titleColor":"#000000","titleX":-106,"titleY":276,"titleBaseline":"middle","titleAlign":"center","titleAngle":-90}}
},
"layer":[
{"mark":{"type":"line","strokeWidth":1.6,"clip":true},
 "encoding":{
  "color":{"field":"key","type":"nominal",
   "scale":{"domain":["Jan","Feb","Mar","Apr","May","Jun","Jul","Aug","Sep","Oct","Nov","Dec"],
    "range":["#FFFF00","#00FFFF","#800080","#800000","#008080","#0000FF","#00CCFF","#CCFFFF","#CCFFCC","#FFFF99","#99CCFF","#FF99CC"]},
   "legend":{"orient":"none","legendX":902,"legendY":-2,"title":null,"direction":"vertical",
    "fillColor":"#ffffff","strokeColor":"#000000","padding":12,
    "symbolSize":1089,"symbolOffset":21,"labelOffset":0,"rowPadding":17.3,"symbolStrokeWidth":2,"symbolType":"M-1,0H1",
    "labelFont":"Liberation Sans","labelFontSize":25,"labelColor":"#000000","labelLimit":400,
    "encode":{"symbols":{"update":{
     "shape":{"signal":"['M-1,0H1M-0.26,0.2L0,-0.26L0.26,0.2ZM-0.12,0.14L0,-0.1L0.12,0.14Z','M-1,0H1M-0.22,-0.22L0.22,0.22M-0.22,0.22L0.22,-0.22','M-1,0H1M-0.22,-0.22L0.22,0.22M-0.22,0.22L0.22,-0.22M0,-0.28V0.28','M-1,0H1M-0.24,0A0.24,0.24,0,1,0,0.24,0A0.24,0.24,0,1,0,-0.24,0ZM-0.14,0A0.14,0.14,0,1,0,0.14,0A0.14,0.14,0,1,0,-0.14,0ZM-0.05,0A0.05,0.05,0,1,0,0.05,0A0.05,0.05,0,1,0,-0.05,0Z','M-1,0H1M0,-0.26V0.26','M-1,0H1M-0.2,-0.08H0.2V0.08H-0.2Z','M-1,0H1M-0.3,-0.08H0.3V0.08H-0.3Z','M-1,0H1M0,-0.28L0.28,0L0,0.28L-0.28,0ZM0,-0.15L0.15,0L0,0.15L-0.15,0Z','M-1,0H1M-0.22,-0.22H0.22V0.22H-0.22ZM-0.11,-0.11H0.11V0.11H-0.11Z','M-1,0H1M-0.26,0.2L0,-0.26L0.26,0.2ZM-0.12,0.14L0,-0.1L0.12,0.14Z','M-1,0H1M-0.22,-0.22L0.22,0.22M-0.22,0.22L0.22,-0.22','M-1,0H1M-0.22,-0.22L0.22,0.22M-0.22,0.22L0.22,-0.22M0,-0.28V0.28'][indexof(['Jan','Feb','Mar','Apr','May','Jun','Jul','Aug','Sep','Oct','Nov','Dec'], datum.value)]"},
     "fill":{"signal":"scale('color', datum.value)"},
     "stroke":{"signal":"scale('color', datum.value)"},
     "strokeWidth":{"value":2},
     "opacity":{"value":1}}}}}}
 }},
{"mark":{"type":"point","filled":true,"size":78,"strokeWidth":1.6,"opacity":1,"clip":true},
 "encoding":{
  "color":{"field":"key","type":"nominal","legend":null,
   "scale":{"domain":["Jan","Feb","Mar","Apr","May","Jun","Jul","Aug","Sep","Oct","Nov","Dec"],
    "range":["#FFFF00","#00FFFF","#800080","#800000","#008080","#0000FF","#00CCFF","#CCFFFF","#CCFFCC","#FFFF99","#99CCFF","#FF99CC"]}},
  "stroke":{"field":"mk","type":"nominal","legend":null,
   "scale":{"domain":["Jan","Feb","Mar","Apr","May","Jun","Jul","Aug","Sep","Oct","Nov","Dec"],
    "range":["#FFFF00","#00FFFF","#800080","#800000","#008080","#0000FF","#00CCFF","#CCFFFF","#CCFFCC","#FFFF99","#99CCFF","#FF99CC"]}},
  "shape":{"field":"mk","type":"nominal","legend":null,
   "scale":{"domain":["Jan","Feb","Mar","Apr","May","Jun","Jul","Aug","Sep","Oct","Nov","Dec"],
    "range":["M-1,0.8L0,-0.95L1,0.8Z","M-1,-1L1,1M-1,1L1,-1","M-1,-1L1,1M-1,1L1,-1M0,-1.3V1.3","circle","M-1.1,0H1.1M0,-1.1V1.1","M-0.9,-0.35H0.9V0.35H-0.9Z","M-1.2,-0.35H1.2V0.35H-1.2Z","diamond","square","M-1,0.8L0,-0.95L1,0.8Z","M-1,-1L1,1M-1,1L1,-1","M-1,-1L1,1M-1,1L1,-1M0,-1.3V1.3"]}},
  "order":{"field":"idx","type":"quantitative"}
 }}
],
"resolve":{"scale":{"color":"independent"},"legend":{"color":"independent"}},
"config":{
 "font":"Liberation Sans",
 "view":{"fill":"#f6f6f6","stroke":"#808080","strokeWidth":2}
}
}
